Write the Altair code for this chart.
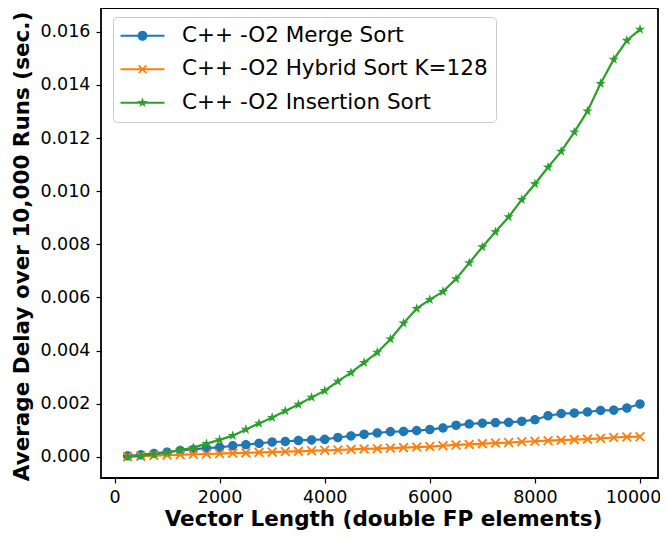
import math
import altair as alt
import pandas as pd

# ---------------- data ----------------
vector_length = [250, 500, 750, 1000, 1250, 1500, 1750, 2000, 2250, 2500,
                 2750, 3000, 3250, 3500, 3750, 4000, 4250, 4500, 4750, 5000,
                 5250, 5500, 5750, 6000, 6250, 6500, 6750, 7000, 7250, 7500,
                 7750, 8000, 8250, 8500, 8750, 9000, 9250, 9500, 9750, 10000]

merge_sort = [0.00004, 0.00008, 0.00013, 0.00018, 0.00024, 0.00028, 0.00033, 0.00036, 0.00042, 0.00046,
              0.00051, 0.00056, 0.00058, 0.00062, 0.00064, 0.00066, 0.00073, 0.00079, 0.00085, 0.00090,
              0.00095, 0.00096, 0.00099, 0.00103, 0.00109, 0.00119, 0.00124, 0.00127, 0.00129, 0.00130,
              0.00134, 0.00140, 0.00155, 0.00163, 0.00165, 0.00169, 0.00175, 0.00176, 0.00184, 0.00199]

hybrid_sort = [0.00001, 0.00003, 0.00005, 0.00007, 0.00008, 0.00010, 0.00011, 0.00012, 0.00014, 0.00015,
               0.00017, 0.00018, 0.00020, 0.00021, 0.00023, 0.00025, 0.00026, 0.00028, 0.00030, 0.00031,
               0.00033, 0.00035, 0.00037, 0.00039, 0.00042, 0.00045, 0.00047, 0.00050, 0.00052, 0.00054,
               0.00057, 0.00059, 0.00061, 0.00063, 0.00065, 0.00067, 0.00070, 0.00073, 0.00075, 0.00076]

insertion_sort = [0.00001, 0.00004, 0.00009, 0.00016, 0.00026, 0.00035, 0.00050, 0.00064, 0.00080, 0.00103,
                  0.00126, 0.00148, 0.00173, 0.00197, 0.00224, 0.00249, 0.00284, 0.00317, 0.00355, 0.00393,
                  0.00443, 0.00503, 0.00558, 0.00592, 0.00622, 0.00670, 0.00730, 0.00790, 0.00847, 0.00903,
                  0.00968, 0.01027, 0.01090, 0.01150, 0.01222, 0.01301, 0.01405, 0.01496, 0.01567, 0.01609]

series_names = ["C++ -O2 Merge Sort", "C++ -O2 Hybrid Sort K=128", "C++ -O2 Insertion Sort"]
series_values = [merge_sort, hybrid_sort, insertion_sort]
series_colors = ["#1f77b4", "#ff7f0e", "#2ca02c"]

x_ticks = [0, 2000, 4000, 6000, 8000, 10000]
y_ticks = [0.0, 0.002, 0.004, 0.006, 0.008, 0.010, 0.012, 0.014, 0.016]

# ---------------- marker shapes (SVG paths in the unit square) ----------------
def poly(pts):
    return "M" + "L".join(f"{x:.4f},{y:.4f}" for x, y in pts) + "Z"

def circle_pts(r, n=28):
    return [(r * math.cos(2 * math.pi * i / n), r * math.sin(2 * math.pi * i / n)) for i in range(n)]

def x_pts(s, L, h):
    plus = [(h, -L), (h, -h), (L, -h), (L, h), (h, h), (h, L), (-h, L), (-h, h), (-L, h), (-L, -h), (-h, -h), (-h, -L)]
    c = 1 / math.sqrt(2)
    return [(s * (x - y) * c, s * (x + y) * c) for x, y in plus]

def star_pts(r, ri=0.382):
    pts = []
    for k in range(10):
        ang = math.radians(-90 + 36 * k)
        rr = r if k % 2 == 0 else r * ri
        pts.append((rr * math.cos(ang), rr * math.sin(ang)))
    return pts

marker_paths = [poly(circle_pts(1.0)), poly(x_pts(1.0, 1.3, 0.2)), poly(star_pts(1.15))]

# legend symbol: line segment (44 px) + marker; legend unit u px
LEG_S = 11.5            # sqrt(symbolSize)
u = LEG_S / 2
hl = 22 / u
lh = 1.1 / u
rect = poly([(-hl, -lh), (hl, -lh), (hl, lh), (-hl, lh)])
legend_paths = [rect + poly(circle_pts(5.0 / u)),
                rect + poly(x_pts(4.2 / u, 1.3, 0.2)),
                rect + poly(star_pts(5.5 / u))]

# ---------------- table ----------------
rows = []
for name, vals in zip(series_names, series_values):
    for xv, yv in zip(vector_length, vals):
        rows.append({"length": xv, "delay": yv, "series": name})
df = pd.DataFrame(rows)

FONT = "DejaVu Sans"

x_enc = alt.X("length:Q",
              scale=alt.Scale(domain=[-257, 10342.5], nice=False, zero=False),
              axis=alt.Axis(values=x_ticks, format="d", grid=False, domain=False,
                            tickSize=5, tickWidth=1.2, tickColor="black",
                            labelFont=FONT, labelFontSize=17.5, labelColor="black", labelPadding=5,
                            labelFlush=False,
                            labelOffset={"condition": {"test": "datum.value >= 10000", "value": -7},
                                         "value": 0},
                            title="Vector Length (double FP elements)",
                            titleFont=FONT, titleFontSize=21.5, titleFontWeight="bold",
                            titleColor="black", titleX=282, titleY=41,
                            titleBaseline="middle", titleAlign="center"))
y_enc = alt.Y("delay:Q",
              scale=alt.Scale(domain=[-0.000794, 0.016894], nice=False, zero=False),
              axis=alt.Axis(values=y_ticks, format=".3f", grid=False, domain=False,
                            tickSize=5, tickWidth=1.2, tickColor="black",
                            labelFont=FONT, labelFontSize=17.5, labelColor="black", labelPadding=6,
                            labelFlush=False,
                            title="Average Delay over 10,000 Runs (sec.)",
                            titleFont=FONT, titleFontSize=21.5, titleFontWeight="bold",
                            titleColor="black", titleAngle=270, titleX=-79, titleY=238,
                            titleBaseline="middle", titleAlign="center"))

base = alt.Chart(df)
layers = []
for name, color, path in zip(series_names, series_colors, marker_paths):
    sub = base.transform_filter(alt.datum.series == name)
    layers.append(sub.mark_line(strokeWidth=2.2, color=color).encode(x=x_enc, y=y_enc))
    layers.append(sub.mark_point(filled=True, opacity=1, size=90, strokeWidth=0)
                  .encode(x=x_enc, y=y_enc, color=alt.value(color), shape=alt.value(path)))

legend_layer = base.transform_filter("false").mark_point(filled=True, opacity=1, strokeWidth=0).encode(
    x=x_enc, y=y_enc,
    color=alt.Color("series:N", scale=alt.Scale(domain=series_names, range=series_colors),
                    legend=alt.Legend(orient="none", legendX=12, legendY=9, title=None,
                                      padding=8, strokeColor="#cccccc", cornerRadius=4,
                                      fillColor="white", symbolSize=LEG_S * LEG_S, symbolStrokeWidth=0,
                                      symbolOffset=10.75, symbolOpacity=1,
                                      labelFont=FONT, labelFontSize=21.5,
                                      labelColor="black", labelOffset=28.75, rowPadding=10.5,
                                      labelLimit=500)),
    shape=alt.Shape("series:N", scale=alt.Scale(domain=series_names, range=legend_paths)),
)
layers.append(legend_layer)

chart = alt.layer(*layers).properties(
    width=557, height=470,
    autosize=alt.AutoSizeParams(type="none"),
    padding={"left": 93, "top": 0, "right": 2, "bottom": 54},
).configure_view(stroke="black", strokeWidth=1.8)

chart.save("out.html", embed_options={"renderer": "svg", "actions": False})
